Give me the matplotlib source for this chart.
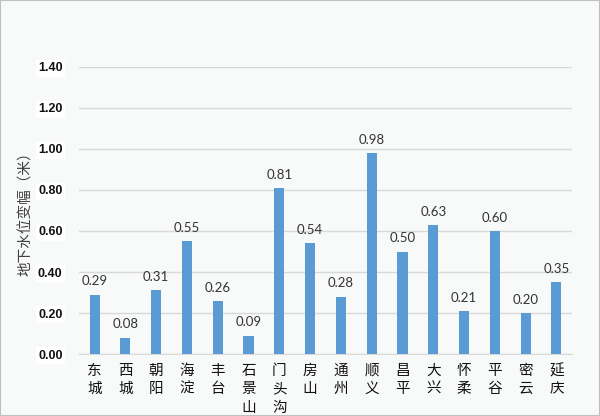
import matplotlib.pyplot as plt
import numpy as np

plt.rcParams['font.family'] = ['Noto Sans CJK SC', 'DejaVu Sans']

districts = ['东城', '西城', '朝阳', '海淀', '丰台', '石景山', '门头沟', '房山',
             '通州', '顺义', '昌平', '大兴', '怀柔', '平谷', '密云', '延庆']
values = [0.29, 0.08, 0.31, 0.55, 0.26, 0.09, 0.81, 0.54,
          0.28, 0.98, 0.50, 0.63, 0.21, 0.60, 0.20, 0.35]
yticks = [0.0, 0.2, 0.4, 0.6, 0.8, 1.0, 1.2, 1.4]

bg = '#f8f9f9'
fig = plt.figure(figsize=(6, 4.16), dpi=100, facecolor=bg)
ax = fig.add_axes([0.132, 0.149, 0.821, 0.690], facecolor=bg)

x = np.arange(len(districts))
ax.bar(x, values, width=0.33, color='#5b9bd5', zorder=3)
for xi, v in zip(x, values):
    ax.text(xi, v + 0.035, f'{v:.2f}', ha='center', va='bottom',
            fontsize=9.5, color='#333333', family='Lato')

ax.set_xlim(-0.5, len(districts) - 0.5)
ax.set_ylim(0, 1.4)
ax.set_yticks(yticks)
ax.set_yticklabels([f'{t:.2f}' for t in yticks], fontweight='bold',
                   fontsize=9, family='Liberation Sans', color='#111111')
for lab in ax.get_yticklabels():
    lab.set_bbox(dict(facecolor='white', edgecolor='none', pad=1.5))
ax.set_xticks(x)
ax.set_xticklabels(['\n'.join(d) for d in districts], fontsize=10.5,
                   linespacing=1.4, va='top', color='#111111')
ax.grid(axis='y', color='#d9d9d9', linewidth=1, zorder=0)
ax.tick_params(length=0)
ax.tick_params(axis='x', pad=7)
ax.tick_params(axis='y', pad=12)
for s in ['top', 'right', 'left']:
    ax.spines[s].set_visible(False)
ax.spines['bottom'].set_color('#d9d9d9')

ax.set_ylabel('地下水位变幅（米）', fontsize=10.5, color='#404040')
ax.yaxis.set_label_coords(-0.094, 0.502)

fig.patches.append(plt.Rectangle((0, 0), 1, 1, transform=fig.transFigure,
                                 fill=False, edgecolor='#bfbfbf', linewidth=1.5))

fig.savefig('out.png', dpi=100, facecolor=bg)
